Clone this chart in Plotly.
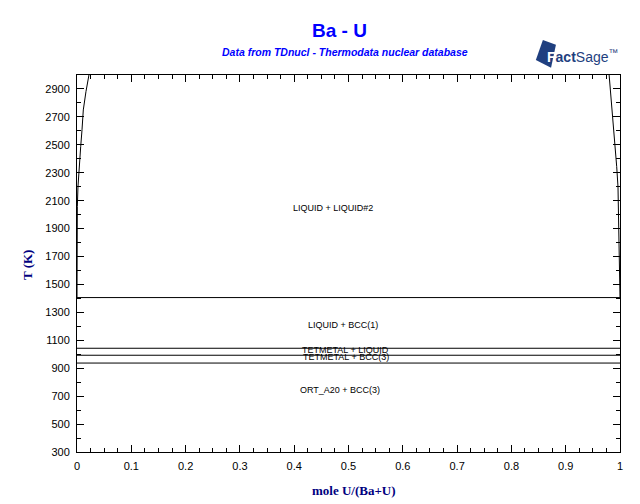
import plotly.graph_objects as go

# Left miscibility gap boundary (Ba-rich)
left_x = [0.0, 0.0, 0.0006, 0.0018, 0.0037, 0.0068, 0.0092, 0.0116, 0.0165, 0.022]
left_T = [1406, 1675, 2057, 2200, 2344, 2487, 2607, 2750, 2881, 3000]
# Right miscibility gap boundary (U-rich)
right_x = [1.0, 0.9987, 0.9976, 0.9963, 0.9939, 0.9908, 0.9877, 0.9847, 0.980]
right_T = [1406, 1675, 2057, 2200, 2344, 2487, 2607, 2750, 3000]
# Invariant (horizontal) lines
inv_T = [1406, 1043, 993, 937]
# Phase field labels
lab_text = ["LIQUID + LIQUID#2", "LIQUID + BCC(1)", "TETMETAL + LIQUID",
            "TETMETAL + BCC(3)", "ORT_A20 + BCC(3)"]
lab_x = [0.471, 0.49, 0.494, 0.496, 0.485]
lab_T = [2048, 1210, 1030, 982, 744]

y_ticks = list(range(300, 3000, 200))
x_ticks = [0, 0.1, 0.2, 0.3, 0.4, 0.5, 0.6, 0.7, 0.8, 0.9, 1]
x_tick_text = ["0", "0.1", "0.2", "0.3", "0.4", "0.5", "0.6", "0.7", "0.8", "0.9", "1"]

fig = go.Figure()
line = dict(color="black", width=1)
fig.add_trace(go.Scatter(x=left_x, y=left_T, mode="lines", line=line, hoverinfo="skip"))
fig.add_trace(go.Scatter(x=right_x, y=right_T, mode="lines", line=line, hoverinfo="skip"))
for T in inv_T:
    fig.add_trace(go.Scatter(x=[0, 1], y=[T, T], mode="lines", line=line, hoverinfo="skip"))

for t, x, y in zip(lab_text, lab_x, lab_T):
    fig.add_annotation(x=x, y=y, text=t, showarrow=False, xref="x", yref="y",
                       font=dict(family="Liberation Sans, Arial", size=9, color="black"))

fig.add_annotation(x=0.484, y=1.119, xref="paper", yref="paper", xanchor="center", yanchor="middle",
                   text="<b>Ba - U</b>", showarrow=False,
                   font=dict(family="Liberation Sans, Arial", size=19, color="#0000FF"))
fig.add_annotation(x=0.4936, y=1.061, xref="paper", yref="paper", xanchor="center", yanchor="middle",
                   text="<b><i>Data from TDnucl - Thermodata nuclear database</i></b>", showarrow=False,
                   font=dict(family="Liberation Sans, Arial", size=10.5, color="#0000FF"))
# FactSage logo (approximation)
fig.add_shape(type="path", xref="paper", yref="paper",
              path="M 0.858 1.093 L 0.882 1.080 L 0.873 1.019 L 0.845 1.040 Z",
              fillcolor="#1F3F7F", line=dict(width=0))
fig.add_annotation(x=0.862, y=1.050, xref="paper", yref="paper", xanchor="left", yanchor="middle",
                   text='<b><span style="color:white">F</span>act</b>Sage<sup>™</sup>', showarrow=False,
                   font=dict(family="Liberation Sans, Arial", size=14, color="#1F3F7F"))
fig.add_annotation(x=0.510, y=-0.101, xref="paper", yref="paper", xanchor="center", yanchor="middle",
                   text="<b>mole U/(Ba+U)</b>", showarrow=False,
                   font=dict(family="Liberation Serif, Times New Roman", size=13, color="#000080"))
fig.add_annotation(x=-0.092, y=0.496, xref="paper", yref="paper", xanchor="center", yanchor="middle",
                   text="<b>T (K)</b>", showarrow=False, textangle=-90,
                   font=dict(family="Liberation Serif, Times New Roman", size=13, color="#000080"))

tickfont = dict(family="Liberation Sans Narrow, Arial Narrow, Liberation Sans, Arial", size=11, color="black")
fig.update_xaxes(range=[0, 1], tickvals=x_ticks, ticktext=x_tick_text, ticks="inside", ticklen=7,
                 tickcolor="black", showline=True, linecolor="black", linewidth=1, mirror="ticks",
                 showgrid=False, zeroline=False, tickfont=tickfont, ticklabelstandoff=4,
                 minor=dict(dtick=0.025, ticks="inside", ticklen=4, tickcolor="black", showgrid=False))
fig.update_yaxes(range=[300, 3000], tickvals=y_ticks, ticks="inside", ticklen=7,
                 tickcolor="black", showline=True, linecolor="black", linewidth=1, mirror="ticks",
                 showgrid=False, zeroline=False, tickfont=tickfont, ticklabelstandoff=4,
                 minor=dict(dtick=100, tick0=300, ticks="inside", ticklen=4, tickcolor="black", showgrid=False))
fig.update_layout(width=632, height=496, margin=dict(l=69, r=20, t=67, b=52),
                  plot_bgcolor="white", paper_bgcolor="white", showlegend=False)
fig.write_html("out.html")
